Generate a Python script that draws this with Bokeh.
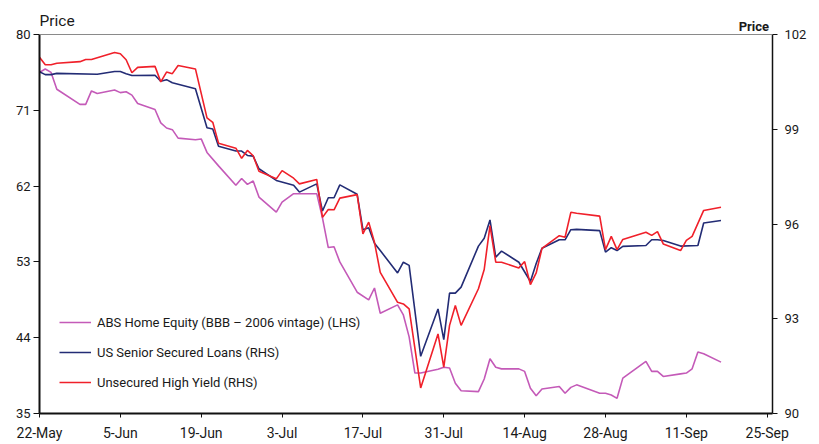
import pandas as pd
from bokeh.plotting import figure
from bokeh.models import (Range1d, LinearAxis, FixedTicker, CustomJSTickFormatter,
                          Legend, LegendItem, Label, Span)
from bokeh.embed import file_html
from bokeh.resources import INLINE

# ---------------- data ----------------
abs_dates = ["2007-05-22", "2007-05-23", "2007-05-24", "2007-05-25", "2007-05-29", "2007-05-30",
             "2007-05-31", "2007-06-01", "2007-06-04", "2007-06-05", "2007-06-06", "2007-06-07",
             "2007-06-08", "2007-06-11", "2007-06-12", "2007-06-13", "2007-06-14", "2007-06-15",
             "2007-06-18", "2007-06-19", "2007-06-20", "2007-06-22", "2007-06-25", "2007-06-26",
             "2007-06-27", "2007-06-28", "2007-06-29", "2007-07-02", "2007-07-03", "2007-07-05",
             "2007-07-09", "2007-07-10", "2007-07-11", "2007-07-12", "2007-07-13", "2007-07-16",
             "2007-07-18", "2007-07-19", "2007-07-20", "2007-07-23", "2007-07-24", "2007-07-25",
             "2007-07-26", "2007-07-27", "2007-07-30", "2007-07-31", "2007-08-01", "2007-08-02",
             "2007-08-03", "2007-08-06", "2007-08-07", "2007-08-08", "2007-08-09", "2007-08-10",
             "2007-08-13", "2007-08-14", "2007-08-15", "2007-08-16", "2007-08-17", "2007-08-20",
             "2007-08-21", "2007-08-22", "2007-08-23", "2007-08-27", "2007-08-28", "2007-08-29",
             "2007-08-30", "2007-08-31", "2007-09-04", "2007-09-05", "2007-09-06", "2007-09-07",
             "2007-09-10", "2007-09-11", "2007-09-12", "2007-09-13", "2007-09-14", "2007-09-17"]
abs_values = [75.5, 75.9, 75.5, 73.5, 71.7, 71.7,
              73.3, 73.0, 73.4, 73.1, 73.2, 72.8,
              71.8, 71.1, 69.5, 68.9, 68.7, 67.7,
              67.5, 67.6, 66.0, 64.4, 62.1, 62.9,
              62.2, 62.6, 60.7, 58.9, 60.1, 61.1,
              61.1, 58.2, 54.7, 54.8, 53.0, 49.4,
              48.5, 49.9, 46.9, 47.9, 46.7, 44.1,
              39.8, 39.8, 40.25, 40.5, 40.4, 38.6,
              37.7, 37.6, 39.1, 41.5, 40.5, 40.3,
              40.3, 40.0, 38.0, 37.1, 37.9, 38.2,
              37.4, 38.1, 38.4, 37.4, 37.4, 37.2,
              36.8, 39.2, 41.2, 40.0, 40.0, 39.4,
              39.7, 39.8, 40.3, 42.3, 42.1, 41.1]

loan_dates = ["2007-05-22", "2007-05-23", "2007-05-24", "2007-05-25", "2007-06-01", "2007-06-04",
              "2007-06-05", "2007-06-06", "2007-06-07", "2007-06-11", "2007-06-12", "2007-06-13",
              "2007-06-14", "2007-06-18", "2007-06-20", "2007-06-21", "2007-06-22", "2007-06-25",
              "2007-06-26", "2007-06-27", "2007-06-28", "2007-06-29", "2007-07-02", "2007-07-05",
              "2007-07-06", "2007-07-09", "2007-07-10", "2007-07-11", "2007-07-12", "2007-07-13",
              "2007-07-16", "2007-07-17", "2007-07-18", "2007-07-19", "2007-07-20", "2007-07-23",
              "2007-07-24", "2007-07-25", "2007-07-27", "2007-07-30", "2007-07-31", "2007-08-01",
              "2007-08-02", "2007-08-03", "2007-08-06", "2007-08-07", "2007-08-08", "2007-08-09",
              "2007-08-10", "2007-08-13", "2007-08-15", "2007-08-16", "2007-08-17", "2007-08-20",
              "2007-08-21", "2007-08-22", "2007-08-23", "2007-08-27", "2007-08-28", "2007-08-29",
              "2007-08-30", "2007-08-31", "2007-09-04", "2007-09-05", "2007-09-06", "2007-09-07",
              "2007-09-10", "2007-09-13", "2007-09-14", "2007-09-17"]
loan_values = [100.82, 100.73, 100.73, 100.77, 100.74, 100.83,
               100.83, 100.76, 100.70, 100.71, 100.52, 100.57,
               100.47, 100.28, 99.05, 99.01, 98.46, 98.31,
               98.31, 98.17, 98.15, 97.75, 97.38, 97.23,
               97.01, 97.27, 96.41, 96.83, 96.83, 97.24,
               96.94, 95.82, 95.88, 95.39, 95.16, 94.45,
               94.79, 94.69, 91.81, 93.31, 92.34, 93.81,
               93.81, 94.00, 95.30, 95.55, 96.13, 94.95,
               95.14, 94.79, 94.18, 94.75, 95.23, 95.50,
               95.50, 95.82, 95.83, 95.79, 95.11, 95.25,
               95.16, 95.29, 95.32, 95.50, 95.50, 95.48,
               95.30, 95.32, 96.03, 96.11]

hy_dates = ["2007-05-22", "2007-05-23", "2007-05-24", "2007-05-25", "2007-05-29", "2007-05-30",
            "2007-05-31", "2007-06-04", "2007-06-05", "2007-06-06", "2007-06-07", "2007-06-08",
            "2007-06-11", "2007-06-12", "2007-06-13", "2007-06-14", "2007-06-15", "2007-06-18",
            "2007-06-20", "2007-06-21", "2007-06-22", "2007-06-25", "2007-06-26", "2007-06-27",
            "2007-06-28", "2007-06-29", "2007-07-02", "2007-07-03", "2007-07-05", "2007-07-06",
            "2007-07-09", "2007-07-10", "2007-07-11", "2007-07-12", "2007-07-13", "2007-07-16",
            "2007-07-17", "2007-07-18", "2007-07-19", "2007-07-20", "2007-07-23", "2007-07-24",
            "2007-07-25", "2007-07-27", "2007-07-30", "2007-07-31", "2007-08-01", "2007-08-02",
            "2007-08-03", "2007-08-06", "2007-08-07", "2007-08-08", "2007-08-09", "2007-08-10",
            "2007-08-13", "2007-08-14", "2007-08-15", "2007-08-16", "2007-08-17", "2007-08-20",
            "2007-08-21", "2007-08-22", "2007-08-23", "2007-08-27", "2007-08-28", "2007-08-29",
            "2007-08-30", "2007-08-31", "2007-09-04", "2007-09-05", "2007-09-06", "2007-09-07",
            "2007-09-10", "2007-09-11", "2007-09-12", "2007-09-14", "2007-09-17"]
hy_values = [101.28, 101.04, 101.04, 101.09, 101.14, 101.21,
             101.21, 101.43, 101.39, 101.20, 100.79, 100.96,
             100.99, 100.50, 100.81, 100.76, 101.02, 100.91,
             99.36, 99.22, 98.56, 98.40, 98.08, 98.33,
             98.16, 97.67, 97.43, 97.69, 97.45, 97.27,
             97.41, 96.21, 96.46, 96.45, 96.82, 96.93,
             95.69, 96.06, 95.42, 94.47, 93.52, 93.47,
             93.31, 90.81, 92.52, 91.47, 92.79, 93.42,
             92.79, 93.95, 94.56, 95.95, 94.79, 94.79,
             94.61, 94.81, 94.08, 94.45, 95.23, 95.63,
             95.58, 96.37, 96.34, 96.25, 95.19, 95.61,
             95.19, 95.51, 95.74, 95.64, 95.76, 95.37,
             95.16, 95.48, 95.61, 96.43, 96.53]

x_tick_dates = ["2007-05-22", "2007-06-05", "2007-06-19", "2007-07-03", "2007-07-17",
                "2007-07-31", "2007-08-14", "2007-08-28", "2007-09-11", "2007-09-25"]
left_ticks = [35, 44, 53, 62, 71, 80]
right_ticks = [90, 93, 96, 99, 102]
axis_title = "Price"

series_names = ["ABS Home Equity (BBB \u2013 2006 vintage) (LHS)",
                "US Senior Secured Loans (RHS)",
                "Unsecured High Yield (RHS)"]
colors = ["#c45ab8", "#232c75", "#f0202a"]

FONT = "Roboto"

# ---------------- geometry ----------------
W, H = 819, 444
PLOT_TOP_PX = 34          # where the 80 / 102 line sits
PLOT_BOTTOM_PX = 413      # where the 35 / 90 line sits
left_lo, left_hi = left_ticks[0], left_ticks[-1]
right_lo, right_hi = right_ticks[0], right_ticks[-1]
span_px = PLOT_BOTTOM_PX - PLOT_TOP_PX
# the frame reaches the top of the canvas so that the two headings sit inside it
left_top = left_hi + (left_hi - left_lo) * PLOT_TOP_PX / span_px
right_top = right_hi + (right_hi - right_lo) * PLOT_TOP_PX / span_px

x_start = pd.Timestamp("2007-05-22")
x_end = pd.Timestamp("2007-09-25") + pd.Timedelta(hours=22)

p = figure(width=W, height=H, x_axis_type="datetime",
           x_range=(x_start, x_end), y_range=Range1d(left_lo, left_top),
           output_backend="svg", toolbar_location=None,
           min_border_left=39, min_border_right=47, min_border_top=0, min_border_bottom=31)
p.extra_y_ranges = {"rhs": Range1d(right_lo, right_top)}

p.grid.visible = False
p.outline_line_color = None
p.background_fill_color = "white"
p.border_fill_color = "white"

# top border line of the chart box
p.add_layout(Span(location=left_hi, dimension="width", line_color="#8a8a8a", line_width=1))

r_abs = p.line(pd.to_datetime(abs_dates), abs_values, color=colors[0], line_width=1.6)
r_loan = p.line(pd.to_datetime(loan_dates), loan_values, color=colors[1], line_width=1.6,
                y_range_name="rhs")
r_hy = p.line(pd.to_datetime(hy_dates), hy_values, color=colors[2], line_width=1.6,
              y_range_name="rhs")

# x axis
xa = p.xaxis[0]
xa.ticker = FixedTicker(ticks=[pd.Timestamp(d).value / 1e6 for d in x_tick_dates])
xa.formatter = CustomJSTickFormatter(code="""
const m = ["Jan","Feb","Mar","Apr","May","Jun","Jul","Aug","Sep","Oct","Nov","Dec"];
const d = new Date(tick);
return d.getUTCDate() + "-" + m[d.getUTCMonth()];
""")

# left axis
ya = p.yaxis[0]
ya.ticker = FixedTicker(ticks=left_ticks)
ya.bounds = (left_lo, left_hi)

# right axis
ra = LinearAxis(y_range_name="rhs", ticker=FixedTicker(ticks=right_ticks),
                bounds=(right_lo, right_hi))
p.add_layout(ra, "right")

for ax in (xa, ya, ra):
    ax.axis_line_color = "#111111"
    ax.major_tick_line_color = "#111111"
    ax.minor_tick_line_color = None
    ax.major_tick_in = 0
    ax.major_label_text_font = FONT
    ax.major_label_text_font_size = "13px"
    ax.major_label_text_color = "#1a1a1a"
xa.major_label_text_font_size = "14px"
xa.axis_line_width = 2
ya.axis_line_width = 2
ra.axis_line_width = 1.5
xa.major_tick_out = 4
xa.major_label_standoff = 7
ya.major_tick_out = 6
ya.major_label_standoff = 3
ra.major_tick_out = 5
ra.major_label_standoff = 7

# "Price" headings, placed in frame pixels (measured up from the bottom axis)
p.add_layout(Label(x=0, y=PLOT_BOTTOM_PX - 20.5, x_units="screen", y_units="screen",
                   text=axis_title, text_font=FONT, text_font_size="15.5px",
                   text_font_style="normal", text_color="#1a1a1a",
                   text_align="left", text_baseline="alphabetic"))
p.add_layout(Label(x=729.5, y=PLOT_BOTTOM_PX - 26, x_units="screen", y_units="screen",
                   text=axis_title, text_font=FONT, text_font_size="13px",
                   text_font_style="bold", text_color="#1a1a1a",
                   text_align="right", text_baseline="alphabetic"))

# legend
legend = Legend(items=[LegendItem(label=series_names[0], renderers=[r_abs]),
                       LegendItem(label=series_names[1], renderers=[r_loan]),
                       LegendItem(label=series_names[2], renderers=[r_hy])],
                location=(20, 21), padding=0, margin=0, spacing=10,
                glyph_width=32, glyph_height=20, label_height=20, label_standoff=6,
                label_text_font=FONT, label_text_font_size="13px", label_text_color="#1a1a1a",
                border_line_color=None, background_fill_alpha=0)
p.add_layout(legend, "center")

open("out.html", "w").write(file_html(p, INLINE))
